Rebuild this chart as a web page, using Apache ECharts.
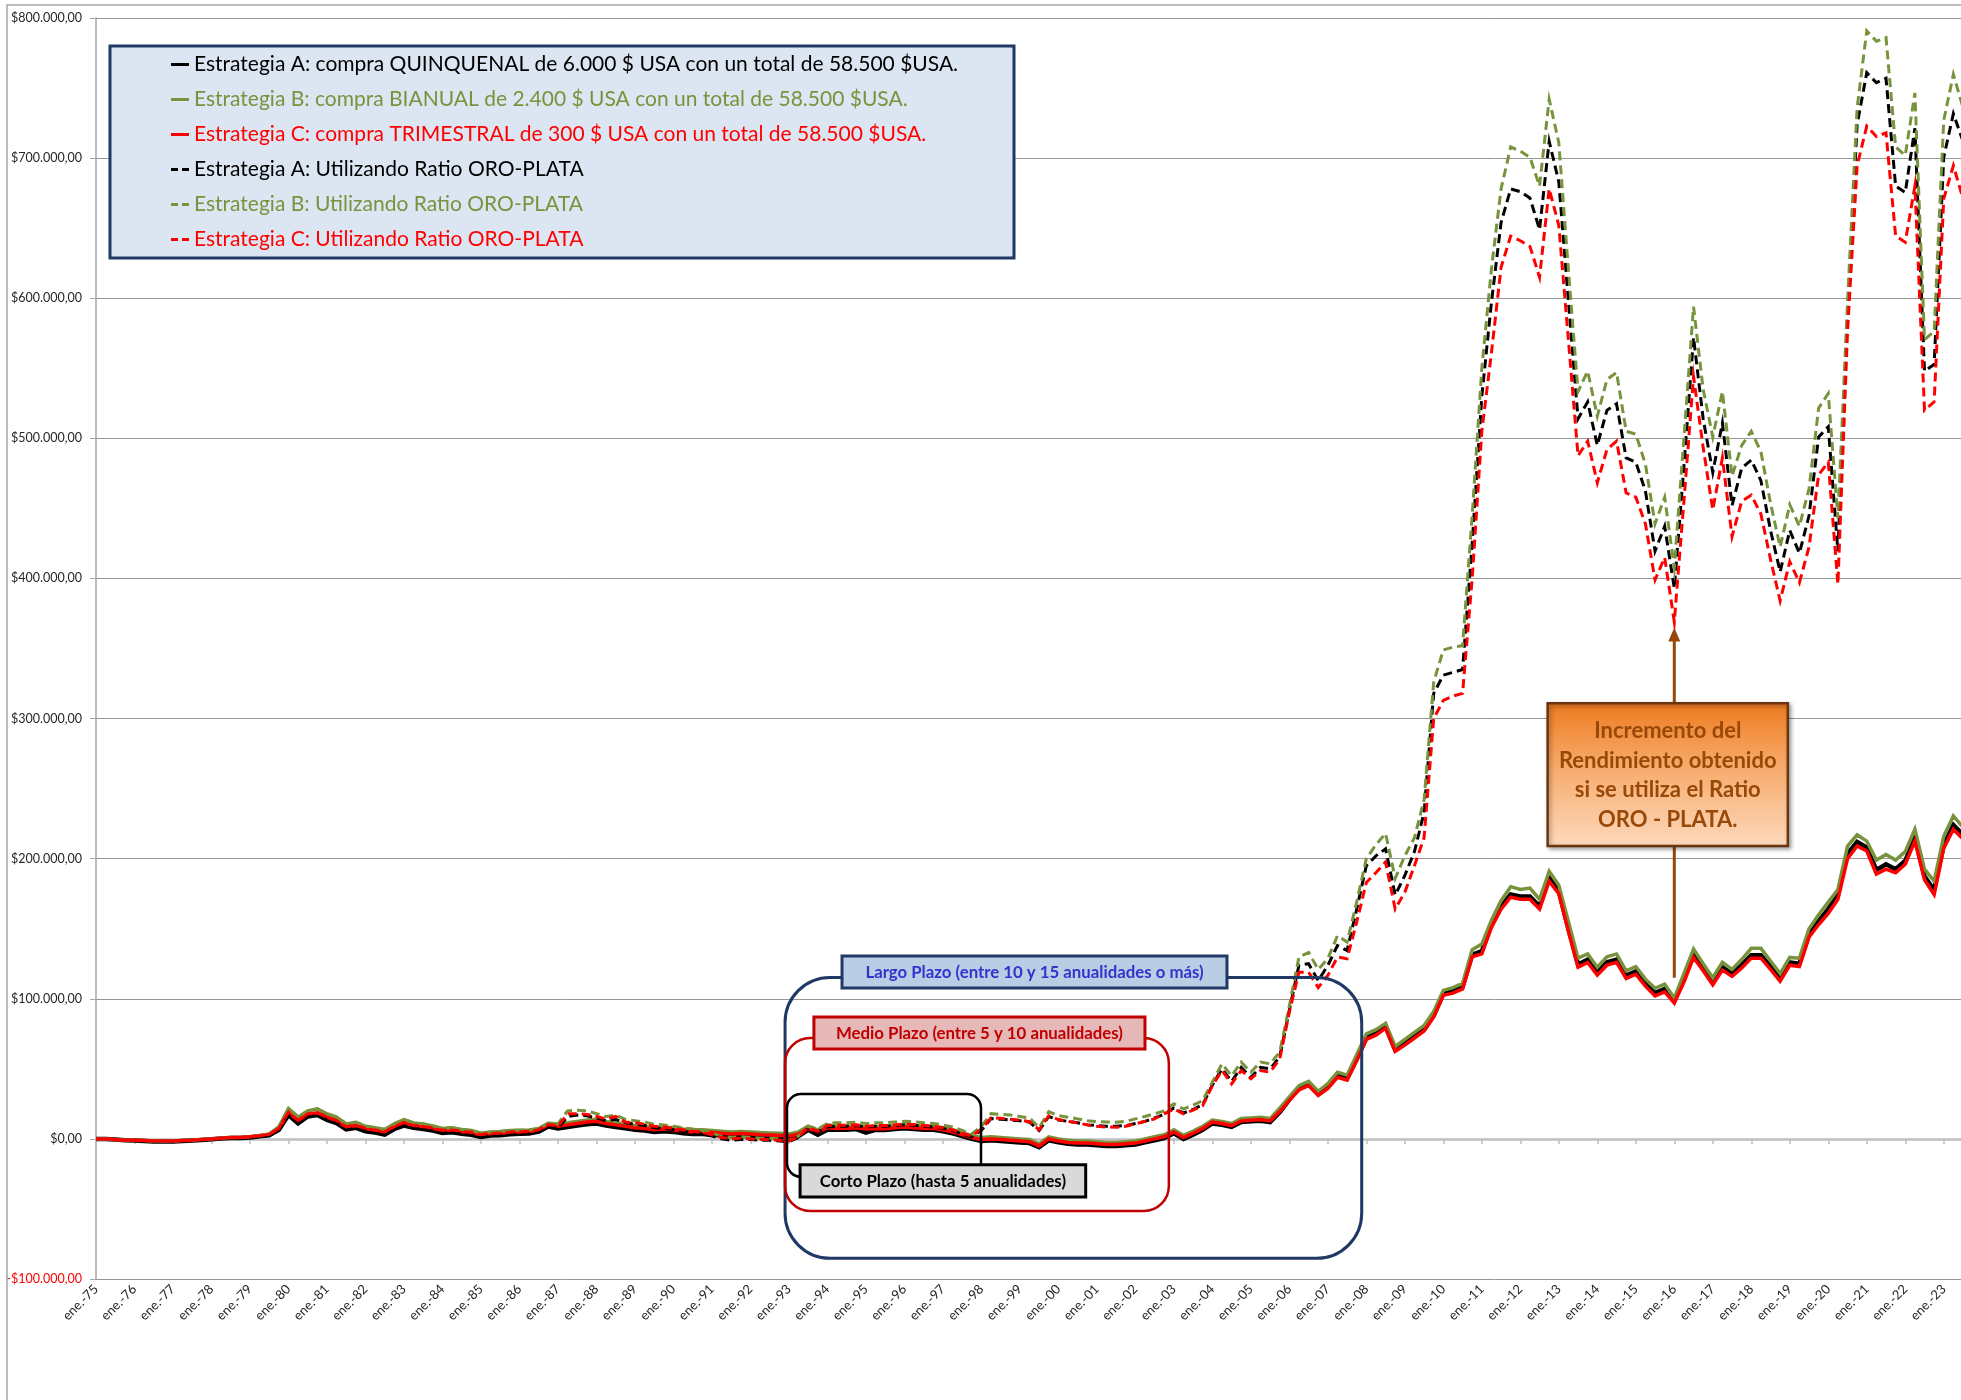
<!DOCTYPE html>
<html>
<head>
<meta charset="utf-8">
<script src="https://cdn.jsdelivr.net/npm/echarts/dist/echarts.min.js"></script>
<style>
html,body{margin:0;padding:0;background:#ffffff;}
#c{width:1961px;height:1400px;}
</style>
</head>
<body>
<div id="c"></div>
<script>
// ---------------- DATA (values in thousands of US$) ----------------
const startYear = 1975;
const monthAbbr = ['ene.', 'abr.', 'jul.', 'oct.'];
const nPoints = 195; // quarterly, ene.-75 .. jul.-23
const categories = [];
for (let i = 0; i < nPoints; i++) {
  const y = startYear + Math.floor(i / 4);
  categories.push(monthAbbr[i % 4] + '-' + String(y % 100).padStart(2, '0'));
}

// Estrategia A (solid, black)
const stratA = [
  0, 0, -0.5, -1,            // 1975
  -1.2, -1.5, -1.8, -1.8,    // 1976
  -1.8, -1.5, -1.2, -0.8,    // 1977
  -0.3, 0.2, 0.6, 0.6,       // 1978
  1, 1.8, 2.5, 6.5,          // 1979
  17, 11, 16, 17,            // 1980
  13.6, 11.2, 6.7, 7.9,      // 1981
  5.5, 4.5, 3.1, 7.1,        // 1982
  9.5, 7.9, 7.1, 6,          // 1983
  4.3, 4.8, 3.6, 2.9,        // 1984
  1.4, 2.4, 2.6, 3.3,        // 1985
  3.6, 3.8, 5.2, 8.8,        // 1986
  7.5, 8.5, 9.5, 10.5,       // 1987
  11, 9.5, 8.5, 7.5,         // 1988
  6.5, 6, 5, 5.5,            // 1989
  5, 4, 3.5, 3.5,            // 1990
  3, 2.5, 2, 2.3,            // 1991
  2, 1.5, 1.3, 1,            // 1992
  0.5, 2, 6.5, 3,            // 1993
  6.5, 6.5, 6.6, 7,          // 1994
  4.5, 6.5, 6.3, 7,          // 1995
  7.5, 7, 6.5, 6.5,          // 1996
  5.5, 4, 2, 0,              // 1997
  -1.5, -1, -1.5, -2,        // 1998
  -2.5, -3, -6, -1,          // 1999
  -2.5, -3.5, -4, -4,        // 2000
  -4.5, -5, -5, -4.5,        // 2001
  -4, -2.5, -1, 0.5,         // 2002
  4, 0, 3, 6.5,              // 2003
  11, 10, 8.5, 12,           // 2004
  12.5, 13, 12, 19,          // 2005
  28, 36, 39, 32,            // 2006
  37, 45, 43, 57,            // 2007
  72, 75.5, 80, 63.5,        // 2008
  68, 73, 78, 88,            // 2009
  103.5, 105.5, 108.5, 131.5,// 2010
  134, 153, 166, 174.5,      // 2011
  173, 173, 166, 186.5,      // 2012
  177, 150, 124.5, 128,      // 2013
  119, 126, 128, 116.5,      // 2014
  119.5, 111, 104, 107,      // 2015
  98.5, 114, 131.5, 122,     // 2016
  112, 122.5, 118, 124,      // 2017
  131, 131, 123, 114.5,      // 2018
  126, 125, 146, 155.5,      // 2019
  164, 174, 203.5, 212,      // 2020
  208, 192, 196, 192.5,      // 2021
  198.5, 215, 187.5, 177.5,  // 2022
  210, 224, 217              // 2023
];

// Estrategia B (solid, green)
const stratB = [
  0, 0, -0.5, -1,            // 1975
  -1, -1.2, -1.5, -1.5,      // 1976
  -1.5, -1.2, -1, -0.5,      // 1977
  0, 0.5, 1, 1,              // 1978
  1.5, 2.5, 3.5, 8.5,        // 1979
  21.7, 15.5, 20, 21.4,      // 1980
  17.9, 15.5, 10.7, 11.9,    // 1981
  9, 7.9, 6.7, 10.7,         // 1982
  13.8, 11.4, 10.7, 9.3,     // 1983
  7.4, 7.9, 6.7, 6,          // 1984
  4, 5, 5.2, 6,              // 1985
  6.2, 6.4, 7.4, 11.2,       // 1986
  10.7, 11.5, 12.5, 13.5,    // 1987
  14, 12.5, 11.5, 10.5,      // 1988
  9.5, 9, 8, 8.5,            // 1989
  8, 7, 6.5, 6.5,            // 1990
  6, 5.5, 5, 5.2,            // 1991
  5, 4.5, 4.2, 4,            // 1992
  3.5, 5, 9, 6.5,            // 1993
  10, 9, 9, 9.5,             // 1994
  8.5, 9, 8.8, 9.5,          // 1995
  10, 9.5, 9, 9,             // 1996
  8, 6.5, 4.5, 2.5,          // 1997
  1, 1.5, 1, 0.5,            // 1998
  0, -0.5, -3.5, 1.5,        // 1999
  0, -1, -1.5, -1.5,         // 2000
  -2, -2.5, -2.5, -2,        // 2001
  -1.5, 0, 1.5, 3,           // 2002
  6.5, 2.5, 5.5, 9,          // 2003
  13.5, 12.5, 11, 14.5,      // 2004
  15, 15.5, 14.5, 22,        // 2005
  30, 38, 41, 34,            // 2006
  39.5, 47.5, 45.5, 60,      // 2007
  75, 78, 82.5, 66,          // 2008
  71, 76, 81, 91,            // 2009
  106, 108, 111, 135,        // 2010
  139, 156, 170, 180,        // 2011
  178, 179, 171, 191,        // 2012
  181, 155, 129, 132,        // 2013
  122.5, 130, 132, 120,      // 2014
  123, 114, 107.5, 110.5,    // 2015
  100.5, 118, 135.5, 125,    // 2016
  115, 126, 121, 128,        // 2017
  136, 136, 127, 118,        // 2018
  129.5, 129, 150, 160,      // 2019
  169, 178, 209, 217,        // 2020
  212.5, 199, 203, 199,      // 2021
  205, 221, 192.5, 184,      // 2022
  216, 230.5, 222.5          // 2023
];

// Estrategia C (solid, red)
const stratC = [
  0, 0, -0.5, -1,            // 1975
  -1, -1.2, -1.5, -1.5,      // 1976
  -1.5, -1.2, -1, -0.5,      // 1977
  0, 0.5, 1, 1,              // 1978
  1.5, 2.3, 3.2, 7.5,        // 1979
  19, 13, 17.8, 18.6,        // 1980
  15.5, 13, 8.6, 9.5,        // 1981
  7.4, 6.2, 5, 8.8,          // 1982
  11.7, 9.5, 8.8, 7.6,       // 1983
  6, 6.4, 5.2, 4.5,          // 1984
  2.9, 3.8, 4, 4.8,          // 1985
  5, 5.2, 6.4, 10.2,         // 1986
  9, 10, 11, 12,             // 1987
  12.5, 11, 10, 9,           // 1988
  8, 7.5, 6.5, 7,            // 1989
  6.5, 5.5, 5, 5,            // 1990
  4.5, 4, 3.5, 3.8,          // 1991
  3.5, 3, 2.8, 2.5,          // 1992
  2, 3.5, 7.5, 5,            // 1993
  8, 7.5, 7.6, 8,            // 1994
  7, 7.5, 7.3, 8,            // 1995
  8.5, 8, 7.5, 7.5,          // 1996
  6.5, 5, 3, 1,              // 1997
  -0.5, 0, -0.5, -1,         // 1998
  -1.5, -2, -5, 0,           // 1999
  -1.5, -2.5, -3, -3,        // 2000
  -3.5, -4, -4, -3.5,        // 2001
  -3, -1.5, 0, 1.5,          // 2002
  5, 1, 4, 7.5,              // 2003
  12, 11, 9.5, 12.8,         // 2004
  13.3, 13.8, 12.8, 19.5,    // 2005
  27.5, 35, 38, 31,          // 2006
  36, 44, 42, 56,            // 2007
  71, 74, 79, 62.5,          // 2008
  67, 72, 77, 87,            // 2009
  102.5, 104, 107, 130,      // 2010
  132, 151, 164, 172.5,      // 2011
  171, 171, 164, 184,        // 2012
  175, 148, 122.5, 126,      // 2013
  117, 124, 126, 114.5,      // 2014
  117.5, 109, 102, 105,      // 2015
  97, 112, 129.5, 120,       // 2016
  110, 120.5, 116, 122,      // 2017
  129, 129, 121, 112.5,      // 2018
  124, 123, 144, 153,        // 2019
  161, 171, 200, 209,        // 2020
  205.5, 189, 192.5, 190,    // 2021
  196, 212.5, 185, 174.5,    // 2022
  207.5, 221, 214            // 2023
];

// Estrategia A utilizando Ratio ORO-PLATA (dashed, black)
const ratioA = [
  0, 0, -0.5, -1,            // 1975
  -1.2, -1.5, -1.8, -1.8,    // 1976
  -1.8, -1.5, -1.2, -0.8,    // 1977
  -0.3, 0.2, 0.6, 0.6,       // 1978
  1, 1.8, 2.5, 6.5,          // 1979
  17, 11, 16, 17,            // 1980
  13.6, 11.2, 6.7, 7.9,      // 1981
  5.5, 4.5, 3.1, 7.1,        // 1982
  9.5, 7.9, 7.1, 6,          // 1983
  4.3, 4.8, 3.6, 2.9,        // 1984
  1.4, 2.4, 2.6, 3.3,        // 1985
  3.6, 3.8, 5.2, 8.8,        // 1986
  7.5, 16, 17, 16.5,         // 1987
  15, 13, 14, 11.5,          // 1988
  10.5, 9.5, 8, 7.5,         // 1989
  6.5, 5.5, 4.5, 3.5,        // 1990
  2, 0, -1, -0.5,            // 1991
  -0.5, -1, -1, -1.5,        // 1992
  -2, 1, 7.5, 5,             // 1993
  8.5, 9, 9, 9.5,            // 1994
  8.5, 9, 9, 9.5,            // 1995
  10, 9.8, 9, 8.5,           // 1996
  7.5, 6, 3.5, 1.5,          // 1997
  6, 14.5, 14, 13.5,         // 1998
  13, 12, 6, 16,             // 1999
  13.5, 12.5, 11.5, 10,      // 2000
  9.5, 9, 9, 9.5,            // 2001
  11, 12.5, 15, 17.5,        // 2002
  22, 18.5, 21, 24.5,        // 2003
  38.5, 50, 41, 51,          // 2004
  44, 51, 50, 58.5,          // 2005
  92, 124, 125, 113,         // 2006
  123.8, 138, 134.5, 164,    // 2007
  195, 202, 207, 174,        // 2008
  188, 205, 233, 318,        // 2009
  331, 333, 335, 425,        // 2010
  530, 597, 654, 678,        // 2011
  676, 671.6, 649, 712,      // 2012
  683, 598, 514, 526,        // 2013
  495, 520, 524.6, 486,      // 2014
  483, 462.4, 419.5, 437.3,  // 2015
  393, 480, 572, 514,        // 2016
  475.7, 511, 452, 478.7,    // 2017
  484.6, 469.8, 434.3, 404.7,// 2018
  434.3, 418, 444.7, 501,    // 2019
  508.3, 419.5, 588, 724,    // 2020
  761, 753.8, 757, 680,      // 2021
  675.4, 721.3, 548, 552.7,  // 2022
  700.6, 731.7, 712          // 2023
];

// Estrategia B utilizando Ratio ORO-PLATA (dashed, green)
const ratioB = [
  0, 0, -0.5, -1,            // 1975
  -1, -1.2, -1.5, -1.5,      // 1976
  -1.5, -1.2, -1, -0.5,      // 1977
  0, 0.5, 1, 1,              // 1978
  1.5, 2.5, 3.5, 8.5,        // 1979
  21.7, 15.5, 20, 21.4,      // 1980
  17.9, 15.5, 10.7, 11.9,    // 1981
  9, 7.9, 6.7, 10.7,         // 1982
  13.8, 11.4, 10.7, 9.3,     // 1983
  7.4, 7.9, 6.7, 6,          // 1984
  4, 5, 5.2, 6,              // 1985
  6.2, 6.4, 7.4, 11.2,       // 1986
  10.7, 20, 20.5, 20,        // 1987
  18, 16, 17, 14,            // 1988
  13, 12, 10.5, 10,          // 1989
  9, 8, 7, 6,                // 1990
  4, 2, 1, 1.5,              // 1991
  1, 0.5, 0.5, 0,            // 1992
  -1, 2, 9, 7,               // 1993
  11, 11.5, 11.5, 12,        // 1994
  11, 11.5, 11.5, 12,        // 1995
  12.5, 12.3, 11.5, 11,      // 1996
  10, 8.5, 6, 3.5,           // 1997
  8.8, 18, 17.5, 17,         // 1998
  16, 15, 8, 19.4,           // 1999
  16.7, 15.5, 14.3, 13,      // 2000
  12.4, 12, 11.9, 12.5,      // 2001
  14.3, 16, 18, 20,          // 2002
  25, 21.4, 24, 27.4,        // 2003
  40.5, 53.6, 45, 54.8,      // 2004
  47.6, 54.8, 53.6, 61.9,    // 2005
  95, 129.8, 133, 121,       // 2006
  128.6, 145, 140.5, 169,    // 2007
  200, 210, 218, 186,        // 2008
  202, 215, 242, 326,        // 2009
  349, 351, 352, 445,        // 2010
  550, 621, 678, 708,        // 2011
  705, 700.6, 680, 742,      // 2012
  711, 620, 533.4, 548,      // 2013
  515.7, 542, 547, 505,      // 2014
  503, 481.6, 439, 458,      // 2015
  407.7, 500, 594, 535,      // 2016
  501, 533.4, 473, 495,      // 2017
  505, 490.5, 453.6, 422.5,  // 2018
  452.7, 437.3, 464, 521.6,  // 2019
  532, 443, 597, 736,        // 2020
  790.8, 783.4, 786, 708,    // 2021
  702, 746.4, 570.4, 576.3,  // 2022
  727, 759.8, 736            // 2023
];

// Estrategia C utilizando Ratio ORO-PLATA (dashed, red)
const ratioC = [
  0, 0, -0.5, -1,            // 1975
  -1, -1.2, -1.5, -1.5,      // 1976
  -1.5, -1.2, -1, -0.5,      // 1977
  0, 0.5, 1, 1,              // 1978
  1.5, 2.3, 3.2, 7.5,        // 1979
  19, 13, 17.8, 18.6,        // 1980
  15.5, 13, 8.6, 9.5,        // 1981
  7.4, 6.2, 5, 8.8,          // 1982
  11.7, 9.5, 8.8, 7.6,       // 1983
  6, 6.4, 5.2, 4.5,          // 1984
  2.9, 3.8, 4, 4.8,          // 1985
  5, 5.2, 6.4, 10.2,         // 1986
  9, 17.9, 18, 17.5,         // 1987
  16, 14.3, 16, 12,          // 1988
  11.5, 10.5, 9, 8.5,        // 1989
  7.5, 6.5, 5.5, 4.5,        // 1990
  3, 1, 0, 0.5,              // 1991
  0, -0.5, -0.5, -1,         // 1992
  -1.5, 1.5, 8, 5.5,         // 1993
  9.5, 9.8, 9.8, 10,         // 1994
  9, 9.5, 9.5, 10,           // 1995
  10.5, 10.3, 9.5, 9,        // 1996
  8, 6.5, 4, 2,              // 1997
  7, 15, 14.7, 14,           // 1998
  13.5, 12.3, 6.5, 16.5,     // 1999
  13.8, 12.5, 11.4, 10,      // 2000
  9, 8.5, 8.3, 9,            // 2001
  10.7, 12.5, 14.3, 17.9,    // 2002
  21.4, 17.9, 20.5, 23.8,    // 2003
  38, 48.8, 39.3, 48.8,      // 2004
  42.9, 48.8, 47.6, 57,      // 2005
  90.5, 119, 119, 108,       // 2006
  116.7, 129.8, 128.6, 154.8,// 2007
  183, 190, 197.6, 164,      // 2008
  176, 195, 215, 300,        // 2009
  313, 316, 318, 400,        // 2010
  505, 561, 622, 644.4,      // 2011
  641, 637, 615, 678,        // 2012
  652, 570, 487.6, 498,      // 2013
  468.3, 492, 498, 461,      // 2014
  458, 439, 399, 415,        // 2015
  369, 455, 544, 493.5,      // 2016
  449, 486, 430, 455,        // 2017
  459.5, 446, 413.6, 384,    // 2018
  412, 397, 422.5, 474,      // 2019
  483, 395.9, 576, 694.7,    // 2020
  722.8, 715.4, 718, 644.4,  // 2021
  640, 680, 520, 526,        // 2022
  671, 694.7, 671            // 2023
];

const seriesNames = [
  'Estrategia A: compra QUINQUENAL de 6.000 $ USA con un total de 58.500 $USA.',
  'Estrategia B: compra BIANUAL de 2.400 $ USA con un total de 58.500 $USA.',
  'Estrategia C: compra TRIMESTRAL de 300 $ USA con un total de 58.500 $USA.',
  'Estrategia A: Utilizando Ratio ORO-PLATA',
  'Estrategia B: Utilizando Ratio ORO-PLATA',
  'Estrategia C: Utilizando Ratio ORO-PLATA'
];

// ---------------- STYLE / LAYOUT ----------------
const COL_A = '#000000', COL_B = '#77933c', COL_C = '#ff0000';
const FONT = 'Lato';

function fmtMoney(v) {
  const n = Math.round(Number(v) * 1000);
  const s = Math.abs(n).toString().replace(/\B(?=(\d{3})+(?!\d))/g, '.');
  return (n < 0 ? '-' : '') + '$' + s + ',00';
}

const solidIcon = 'path://M0,0H18V3H0Z';
const dashIcon = 'path://M0,0H7V3H0Z M11,0H18V3H11Z';

function lineSeries(name, data, color, width, dashed) {
  return {
    name: name, type: 'line', data: data, symbol: 'none', smooth: false, silent: true,
    xAxisIndex: 0, yAxisIndex: 0,
    lineStyle: { color: color, width: width, type: dashed ? [9, 5] : 'solid', cap: 'butt', join: 'miter' },
    itemStyle: { color: color }
  };
}

const option = {
  animation: false,
  backgroundColor: '#ffffff',
  textStyle: { fontFamily: FONT },
  grid: { left: 96, right: -2, top: 18, bottom: 121, containLabel: false, outerBoundsMode: 'none' },
  legend: {
    orient: 'vertical', left: 171, top: 53.5, padding: 0, itemGap: 13,
    itemWidth: 18, itemHeight: 3, selectedMode: false,
    textStyle: { fontFamily: FONT, fontSize: 21, lineHeight: 22 },
    data: [
      { name: seriesNames[0], icon: solidIcon, textStyle: { color: COL_A } },
      { name: seriesNames[1], icon: solidIcon, textStyle: { color: COL_B } },
      { name: seriesNames[2], icon: solidIcon, textStyle: { color: COL_C } },
      { name: seriesNames[3], icon: dashIcon, textStyle: { color: COL_A } },
      { name: seriesNames[4], icon: dashIcon, textStyle: { color: COL_B } },
      { name: seriesNames[5], icon: dashIcon, textStyle: { color: COL_C } }
    ]
  },
  xAxis: [
    {
      type: 'category', data: categories, boundaryGap: false, position: 'bottom',
      axisLine: { show: false, onZero: false }, axisTick: { show: false },
      axisLabel: { interval: 3, rotate: 45, margin: 8, fontSize: 13, color: '#262626', fontFamily: FONT },
      splitLine: { show: false }
    },
    {
      type: 'category', data: categories, boundaryGap: false, position: 'bottom',
      axisLine: { show: true, onZero: true, onZeroAxisIndex: 0, lineStyle: { color: '#bfbfbf', width: 2.5 } },
      axisTick: { show: true, interval: 3, length: 5, lineStyle: { color: '#bfbfbf', width: 1.5 } },
      axisLabel: { show: false }, splitLine: { show: false }
    }
  ],
  yAxis: {
    type: 'value', min: -100, max: 800, interval: 100,
    axisLine: { show: true, lineStyle: { color: '#a6a6a6', width: 1.5 } },
    axisTick: { show: true, length: 6, lineStyle: { color: '#a6a6a6' } },
    axisLabel: {
      formatter: fmtMoney, fontSize: 12.5, margin: 14, fontFamily: FONT,
      color: function (v) { return Number(v) < 0 ? '#ff0000' : '#262626'; }
    },
    splitLine: { show: true, lineStyle: { color: '#969696', width: 1 } }
  },
  series: [
    lineSeries(seriesNames[0], stratA, COL_A, 4.5, false),
    lineSeries(seriesNames[1], stratB, COL_B, 3.5, false),
    lineSeries(seriesNames[2], stratC, COL_C, 3.5, false),
    lineSeries(seriesNames[3], ratioA, COL_A, 3, true),
    lineSeries(seriesNames[4], ratioB, COL_B, 3, true),
    lineSeries(seriesNames[5], ratioC, COL_C, 3, true)
  ]
};

// Annotations in data coordinates (year fraction, value in thousands)
const periodBoxes = [
  { x0: 1992.9, x1: 2007.88, top: 115.2, bottom: -85.2, r: 45, stroke: '#1f3864', lw: 3 },
  { x0: 1992.9, x1: 2002.87, top: 72, bottom: -51.4, r: 25, stroke: '#c00000', lw: 2.5 },
  { x0: 1992.95, x1: 1997.99, top: 32.1, bottom: -27.1, r: 14, stroke: '#000000', lw: 2.5 }
];
const periodLabels = [
  { x0: 1994.38, x1: 2004.38, top: 130.5, bottom: 107.7, fill: '#b9cde5', stroke: '#1f3864', color: '#3333cc',
    text: 'Largo Plazo (entre 10 y 15 anualidades o más)' },
  { x0: 1993.65, x1: 2002.25, top: 87, bottom: 64.2, fill: '#e6b8b7', stroke: '#c00000', color: '#c00000',
    text: 'Medio Plazo (entre 5 y 10 anualidades)' },
  { x0: 1993.29, x1: 2000.71, top: -18.5, bottom: -41.4, fill: '#d9d9d9', stroke: '#000000', color: '#000000',
    text: 'Corto Plazo (hasta 5 anualidades)' }
];
const calloutBox = { x0: 2012.71, x1: 2018.95, top: 311, bottom: 209,
  text: 'Incremento del\nRendimiento obtenido\nsi se utiliza el Ratio\nORO - PLATA.' };
const calloutArrow = { x: 2016.0, tip: 365, lowEnd: 115 };

const chart = echarts.init(document.getElementById('c'), null, { renderer: 'canvas', width: 1961, height: 1400 });
chart.setOption(option);

function px(year, valK) {
  const p0 = chart.convertToPixel({ xAxisIndex: 0 }, 0);
  const p1 = chart.convertToPixel({ xAxisIndex: 0 }, 4);
  const x = p0 + (p1 - p0) * (year - startYear);
  const y = chart.convertToPixel({ yAxisIndex: 0 }, valK);
  return [x, y];
}

const els = [];
// chart area border
els.push({ type: 'rect', silent: true, z: 1, shape: { x: 7, y: 5, width: 2100, height: 1500 },
  style: { fill: 'none', stroke: '#a6a6a6', lineWidth: 1.5 } });
// legend frame
els.push({ type: 'rect', silent: true, z: 3, shape: { x: 110, y: 46, width: 904, height: 212 },
  style: { fill: '#dce6f2', stroke: '#1f3864', lineWidth: 3 } });

periodBoxes.forEach(function (b) {
  const a = px(b.x0, b.top), c = px(b.x1, b.bottom);
  els.push({ type: 'rect', silent: true, z: 6, shape: { x: a[0], y: a[1], width: c[0] - a[0], height: c[1] - a[1], r: b.r },
    style: { fill: 'none', stroke: b.stroke, lineWidth: b.lw } });
});
periodLabels.forEach(function (l) {
  const a = px(l.x0, l.top), c = px(l.x1, l.bottom);
  els.push({ type: 'rect', silent: true, z: 7, shape: { x: a[0], y: a[1], width: c[0] - a[0], height: c[1] - a[1] },
    style: { fill: l.fill, stroke: l.stroke, lineWidth: 3 } });
  els.push({ type: 'text', silent: true, z: 8, x: (a[0] + c[0]) / 2, y: (a[1] + c[1]) / 2 + 1,
    style: { text: l.text, fill: l.color, fontFamily: FONT, fontSize: 16.8, fontWeight: 'bold', align: 'center', verticalAlign: 'middle' } });
});

(function () {
  const a = px(calloutBox.x0, calloutBox.top), c = px(calloutBox.x1, calloutBox.bottom);
  const ax = px(calloutArrow.x, 0)[0];
  const tipY = px(calloutArrow.x, calloutArrow.tip)[1];
  const lowY = px(calloutArrow.x, calloutArrow.lowEnd)[1];
  const brown = '#984807';
  els.push({ type: 'line', silent: true, z: 7, shape: { x1: ax, y1: a[1], x2: ax, y2: tipY + 10 },
    style: { stroke: brown, lineWidth: 3 } });
  els.push({ type: 'polygon', silent: true, z: 7, shape: { points: [[ax, tipY], [ax - 6, tipY + 14], [ax + 6, tipY + 14]] },
    style: { fill: brown } });
  els.push({ type: 'line', silent: true, z: 7, shape: { x1: ax, y1: c[1], x2: ax, y2: lowY },
    style: { stroke: brown, lineWidth: 3 } });
  els.push({ type: 'rect', silent: true, z: 8, shape: { x: a[0], y: a[1], width: c[0] - a[0], height: c[1] - a[1] },
    style: {
      fill: { type: 'linear', x: 0, y: 0, x2: 0, y2: 1, colorStops: [
        { offset: 0, color: '#ee7a1e' }, { offset: 0.45, color: '#f7ab6c' }, { offset: 1, color: '#fdd9bd' }] },
      stroke: '#6b3510', lineWidth: 2.5, shadowBlur: 4, shadowOffsetX: 2, shadowOffsetY: 2, shadowColor: 'rgba(0,0,0,0.35)'
    } });
  els.push({ type: 'text', silent: true, z: 9, x: (a[0] + c[0]) / 2, y: (a[1] + c[1]) / 2 + 1,
    style: { text: calloutBox.text, fill: brown, fontFamily: FONT, fontSize: 22, fontWeight: 'bold',
      align: 'center', verticalAlign: 'middle', lineHeight: 29.5 } });
})();

chart.setOption({ graphic: { elements: els } });
</script>
</body>
</html>
